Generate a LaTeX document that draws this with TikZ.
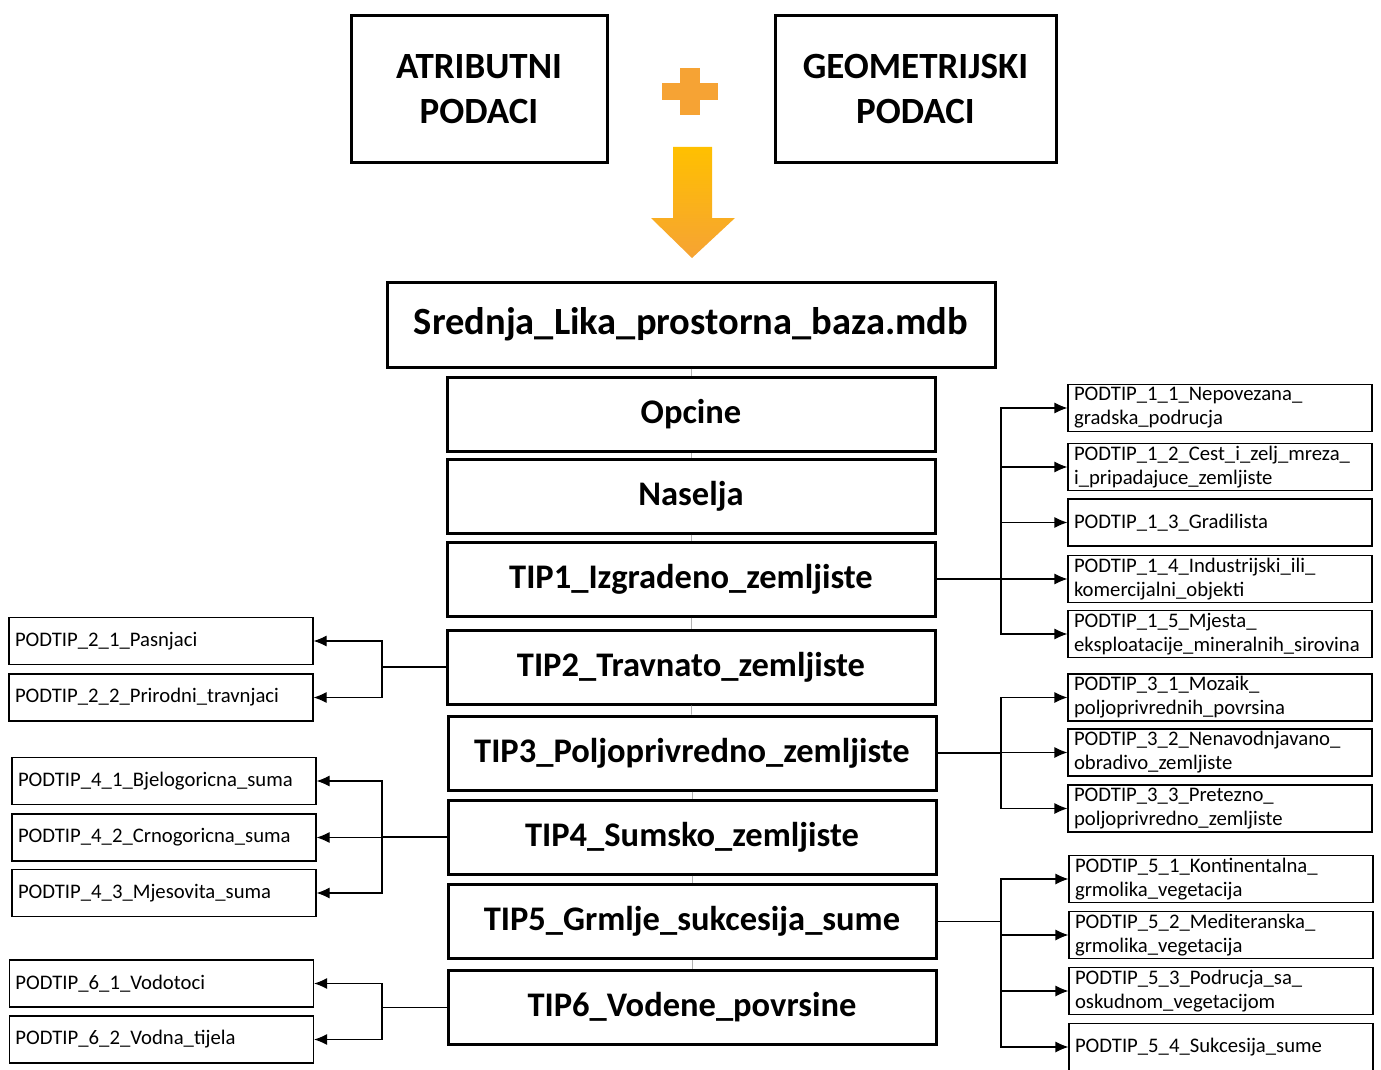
\documentclass[tikz,border=0pt]{standalone}
\usepackage{fontspec}
\setmainfont{Carlito}
\usetikzlibrary{arrows.meta}

\definecolor{narancasta}{RGB}{246,163,52}
\definecolor{zuta}{RGB}{255,192,0}

\tikzset{
  vrh/.style={draw, line width=3pt, font=\fontsize{37}{45}\selectfont\bfseries, align=center, minimum height=147pt, inner sep=0pt},
  glavni/.style={draw, line width=3pt, font=\fontsize{34.5}{40}\selectfont\bfseries, minimum width=488pt, minimum height=74pt, inner sep=0pt},
  podtip/.style={draw, line width=1.1pt, font=\fontsize{20.7}{24}\selectfont, text width=292pt, align=left, inner xsep=6pt, inner ysep=1pt, minimum height=47pt},
  veza/.style={line width=1.1pt, -{Latex[length=13pt,width=11pt]}},
  spoj/.style={line width=0.7pt, gray!60}
}

\begin{document}
\begin{tikzpicture}[x=1pt,y=-1pt]
\useasboundingbox (0,0) rectangle (1381,1070);

% ulazni podaci
\node[vrh, minimum width=256pt] (atr) at (479,89) {ATRIBUTNI\\PODACI};
\node[vrh, minimum width=281pt] (geo) at (915.5,89) {GEOMETRIJSKI\\PODACI};

% plus i strelica
\fill[narancasta] (662,83) rectangle (718,100);
\fill[narancasta] (680,68) rectangle (700,115);
\shade[top color=zuta, bottom color=narancasta] (673,147) -- (712,147) -- (712,218) -- (735,218) -- (692,258) -- (651,218) -- (673,218) -- cycle;

% baza i slojevi
\node[glavni, minimum width=608pt, minimum height=85pt, font=\fontsize{38.5}{40}\selectfont\bfseries] (baza) at (691,324.5) {Srednja\_Lika\_prostorna\_baza.mdb};
\node[glavni] (opcine) at (691,414.5) {Opcine};
\node[glavni] (naselja) at (691,496) {Naselja};
\node[glavni] (tip1) at (691,579) {TIP1\_Izgradeno\_zemljiste};
\node[glavni] (tip2) at (691,667) {TIP2\_Travnato\_zemljiste};
\node[glavni] (tip3) at (692,753) {TIP3\_Poljoprivredno\_zemljiste};
\node[glavni] (tip4) at (692,837) {TIP4\_Sumsko\_zemljiste};
\node[glavni] (tip5) at (692,921.5) {TIP5\_Grmlje\_sukcesija\_sume};
\node[glavni] (tip6) at (692,1007.5) {TIP6\_Vodene\_povrsine};

\draw[spoj] (baza) -- (opcine);
\draw[spoj] (opcine) -- (naselja);
\draw[spoj] (naselja) -- (tip1);
\draw[spoj] (tip1) -- (tip2);
\draw[spoj] (tip2) -- (tip3);
\draw[spoj] (tip3) -- (tip4);
\draw[spoj] (tip4) -- (tip5);
\draw[spoj] (tip5) -- (tip6);

% podtipovi desno
\node[podtip] (p11) at (1220,408) {PODTIP\_1\_1\_Nepovezana\_\\gradska\_podrucja};
\node[podtip] (p12) at (1220,467) {PODTIP\_1\_2\_Cest\_i\_zelj\_mreza\_\\i\_pripadajuce\_zemljiste};
\node[podtip] (p13) at (1220,522.5) {PODTIP\_1\_3\_Gradilista};
\node[podtip] (p14) at (1220,579) {PODTIP\_1\_4\_Industrijski\_ili\_\\komercijalni\_objekti};
\node[podtip] (p15) at (1220,634) {PODTIP\_1\_5\_Mjesta\_\\eksploatacije\_mineralnih\_sirovina};

\node[podtip] (p31) at (1220,697.5) {PODTIP\_3\_1\_Mozaik\_\\poljoprivrednih\_povrsina};
\node[podtip] (p32) at (1220,752.5) {PODTIP\_3\_2\_Nenavodnjavano\_\\obradivo\_zemljiste};
\node[podtip] (p33) at (1220,808.5) {PODTIP\_3\_3\_Pretezno\_\\poljoprivredno\_zemljiste};

\node[podtip] (p51) at (1221,879) {PODTIP\_5\_1\_Kontinentalna\_\\grmolika\_vegetacija};
\node[podtip] (p52) at (1221,935) {PODTIP\_5\_2\_Mediteranska\_\\grmolika\_vegetacija};
\node[podtip] (p53) at (1221,991) {PODTIP\_5\_3\_Podrucja\_sa\_\\oskudnom\_vegetacijom};
\node[podtip] (p54) at (1221,1047) {PODTIP\_5\_4\_Sukcesija\_sume};

% podtipovi lijevo
\node[podtip] (p21) at (161,641) {PODTIP\_2\_1\_Pasnjaci};
\node[podtip] (p22) at (161,697.5) {PODTIP\_2\_2\_Prirodni\_travnjaci};

\node[podtip] (p41) at (164,781) {PODTIP\_4\_1\_Bjelogoricna\_suma};
\node[podtip] (p42) at (164,837.5) {PODTIP\_4\_2\_Crnogoricna\_suma};
\node[podtip] (p43) at (164,893) {PODTIP\_4\_3\_Mjesovita\_suma};

\node[podtip] (p61) at (161.5,983.5) {PODTIP\_6\_1\_Vodotoci};
\node[podtip] (p62) at (161.5,1039.5) {PODTIP\_6\_2\_Vodna\_tijela};

% veze
\coordinate (desno) at (1001,0);
\coordinate (lijevo) at (382,0);
\foreach \p in {p11,p12,p13,p14,p15}
  \draw[veza] (tip1.east) -- (tip1.east -| desno) |- (\p.west);
\foreach \p in {p31,p32,p33}
  \draw[veza] (tip3.east) -- (tip3.east -| desno) |- (\p.west);
\foreach \p in {p51,p52,p53,p54}
  \draw[veza] (tip5.east) -- (tip5.east -| desno) |- (\p.west);
\foreach \p in {p21,p22}
  \draw[veza] (tip2.west) -- (tip2.west -| lijevo) |- (\p.east);
\foreach \p in {p41,p42,p43}
  \draw[veza] (tip4.west) -- (tip4.west -| lijevo) |- (\p.east);
\foreach \p in {p61,p62}
  \draw[veza] (tip6.west) -- (tip6.west -| lijevo) |- (\p.east);
\end{tikzpicture}
\end{document}
